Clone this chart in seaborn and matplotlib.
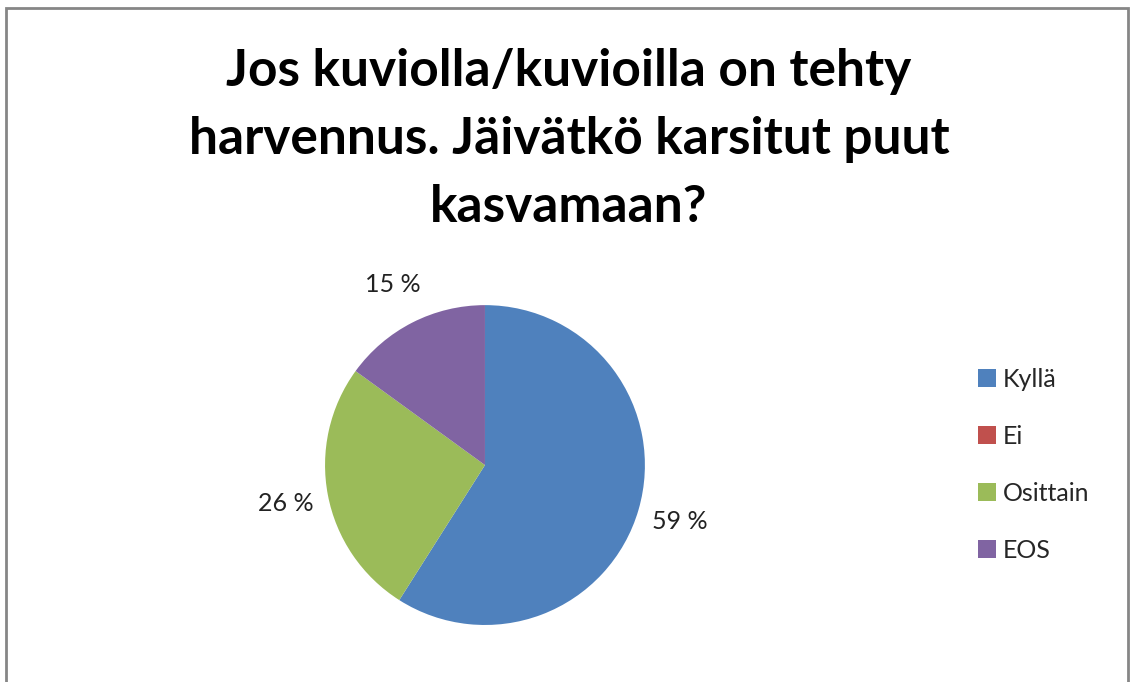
import matplotlib
matplotlib.use('Agg')
import matplotlib.pyplot as plt
import seaborn as sns
from matplotlib.patches import Rectangle

# Data
categories = ['Kyllä', 'Ei', 'Osittain', 'EOS']
shares = [59, 0, 26, 15]
pct_labels = ['59 %', '', '26 %', '15 %']
colors = ['#4F81BD', '#C0504D', '#9BBB59', '#8064A2']
title = 'Jos kuviolla/kuvioilla on tehty\nharvennus. Jäivätkö karsitut puut\nkasvamaan?'

sns.set_theme(style='white')
plt.rcParams['font.family'] = ['Lato', 'DejaVu Sans']

fig = plt.figure(figsize=(11.31, 6.82), dpi=100)
fig.patch.set_facecolor('white')

# Frame around the chart area
fig.patches.append(Rectangle((6 / 1131, -0.05), 1122 / 1131, 1 - 8 / 682 + 0.05,
                             transform=fig.transFigure, fill=False,
                             edgecolor='#868686', linewidth=2))

fig.text(0.503, 0.93, title, ha='center', va='top', fontsize=37,
         fontweight='bold', linespacing=1.56, color='black')

ax = fig.add_axes([0.2873, 0.0836, 0.283, 0.469])
wedges, texts = ax.pie(shares, labels=pct_labels, colors=colors, startangle=90,
                       counterclock=False, labeldistance=1.27,
                       textprops={'fontsize': 18, 'color': '#222222'},
                       wedgeprops={'linewidth': 0})
for t in texts:
    t.set_horizontalalignment('center')
    t.set_verticalalignment('center')
ax.set_xlim(-1, 1)
ax.set_ylim(-1, 1)
ax.set_aspect('equal')

fig.legend(wedges, categories, loc='center left', bbox_to_anchor=(0.8445, 0.318),
           frameon=False, fontsize=18, handlelength=0.72, handleheight=0.72,
           handletextpad=0.3, labelspacing=1.36)

plt.savefig('out.png', dpi=100)
